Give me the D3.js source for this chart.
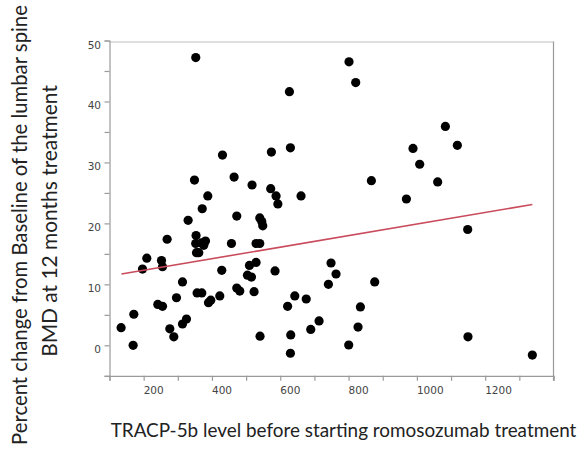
<!DOCTYPE html>
<html>
<head>
<meta charset="utf-8">
<script src="https://cdn.jsdelivr.net/npm/d3@7"></script>
<style>
  body { margin: 0; background: #fff; }
  svg { display: block; }
</style>
</head>
<body>
<div id="chart"></div>
<script>
// TRACP-5b (x) vs % change of lumbar spine BMD at 12 months (y)
const tracp = [352.6, 626.8, 629.7, 574, 430.8, 348.8, 464.8, 517.4, 572, 587.7,
    387.8, 660.8, 593, 371.5, 330.2, 472.6, 540, 545.8, 548.7, 268.7,
    353.5, 381, 352.4, 369.3, 376, 354.7, 361.4, 457.1, 529.1, 540,
    209.2, 252.2, 255.2, 196.6, 529.1, 509.7, 428.7, 584.7, 503.9, 515.6,
    313.7, 472.6, 481.4, 356.5, 370.2, 523.3, 296.1, 422.9, 389.8, 396.5,
    241.4, 255.2, 171.2, 642.5, 621.5, 676, 134, 276.6, 288.3, 313.7,
    325.4, 540.8, 630.7, 629.7, 689.2, 713.6, 169.2, 748.6, 763.3, 741,
    876.5, 834.6, 827.7, 800.4, 1149.6, 1338, 1148.7, 801.3, 820.9, 1083.4,
    1118.5, 988.6, 1008.2, 866.8, 1060.9, 969.3];
const bmdChange = [47.2, 41.6, 32.4, 31.7, 31.2, 27.1, 27.6, 26.3, 25.7, 24.5,
    24.5, 24.5, 23.2, 22.4, 20.5, 21.2, 20.9, 20.3, 19.6, 17.4,
    18.0, 17.1, 16.7, 16.8, 16.4, 15.2, 15.2, 16.7, 16.7, 16.7,
    14.3, 13.9, 12.9, 12.5, 13.6, 13.1, 12.3, 12.2, 11.5, 11.2,
    10.4, 9.4, 8.9, 8.6, 8.6, 8.8, 7.8, 8.1, 7.0, 7.4,
    6.7, 6.4, 5.1, 8.1, 6.4, 7.6, 2.9, 2.7, 1.4, 3.5,
    4.3, 1.5, 1.7, -1.3, 2.6, 4.0, 0.0, 13.5, 11.7, 10.0,
    10.4, 6.3, 3.0, 0.05, 1.4, -1.6, 19.0, 46.5, 43.1, 35.9,
    32.8, 32.3, 29.7, 27.0, 26.8, 24.0];

// fit line end points
const fitX = [135, 1338];
const fitY = [11.7, 23.1];

const xTicks = d3.range(100, 1401, 100);
const xLabels = [200, 400, 600, 800, 1000, 1200];
const yTicks = d3.range(-5, 51, 5);
const yLabels = [0, 10, 20, 30, 40, 50];

const xTitle = "TRACP-5b level before starting romosozumab treatment";
const yTitle = ["Percent change from Baseline of the lumbar spine",
    "BMD at 12 months treatment"];

let W = 581, H = 449;
let plot = {left: 109.5, right: 553.5, top: 40.5, bottom: 375.8};

let x = d3.scaleLinear().domain([100, 1400]).range([plot.left, plot.right]);
let y = d3.scaleLinear().domain([-5, 50]).range([plot.bottom, plot.top]);

let svg = d3.select("#chart").append("svg")
    .attr("width", W)
    .attr("height", H);

let axisColor = "#9a9a9a";

// frame: light top line, grey right line
svg.append("line")
    .attr("x1", plot.left).attr("x2", plot.right)
    .attr("y1", 42).attr("y2", 42)
    .attr("stroke", "#d4d4d4").attr("stroke-width", 1.6);
svg.append("line")
    .attr("x1", plot.right).attr("x2", plot.right)
    .attr("y1", 41.5).attr("y2", plot.bottom + 5)
    .attr("stroke", axisColor).attr("stroke-width", 1.2);

// x axis
let gx = svg.append("g")
    .attr("transform", "translate(0," + plot.bottom + ")")
    .call(d3.axisBottom(x).tickValues(xTicks).tickSize(5).tickFormat(""));
gx.select(".domain").attr("stroke", axisColor).attr("stroke-width", 1.2);
gx.selectAll(".tick line").attr("stroke", axisColor).attr("stroke-width", 1.2);

svg.append("g").selectAll("text")
    .data(xLabels)
    .join("text")
    .attr("x", d => x(d))
    .attr("y", plot.bottom + 18)
    .attr("font-family", "DejaVu Sans, Verdana, sans-serif")
    .attr("font-size", 10.5)
    .attr("fill", "#444")
    .text(d => d);

// y axis
let gy = svg.append("g")
    .attr("transform", "translate(" + plot.left + ",0)")
    .call(d3.axisLeft(y).tickValues(yTicks).tickSize(5).tickFormat(""));
gy.select(".domain").attr("stroke", axisColor).attr("stroke-width", 1.2);
gy.selectAll(".tick line").attr("stroke", axisColor).attr("stroke-width", 1.2);

svg.append("g").selectAll("text")
    .data(yLabels)
    .join("text")
    .attr("x", plot.left - 8.5)
    .attr("y", d => y(d) + 8)
    .attr("text-anchor", "end")
    .attr("font-family", "DejaVu Sans, Verdana, sans-serif")
    .attr("font-size", 10.5)
    .attr("fill", "#444")
    .text(d => d);

// points
svg.append("g").selectAll("circle")
    .data(d3.zip(tracp, bmdChange))
    .join("circle")
    .attr("cx", d => x(d[0]))
    .attr("cy", d => y(d[1]))
    .attr("r", 4.6)
    .attr("fill", "#000");

// fit line
svg.append("line")
    .attr("x1", x(fitX[0])).attr("y1", y(fitY[0]))
    .attr("x2", x(fitX[1])).attr("y2", y(fitY[1]))
    .attr("stroke", "#c94b5c")
    .attr("stroke-width", 1.6);

// titles, font size tuned so the text spans the same length as the picture
function fitText(sel, target) {
    let len = sel.node().getComputedTextLength();
    let fs = parseFloat(sel.attr("font-size")) * target / len;
    sel.attr("font-size", fs);
    return fs;
}

let titleFont = "Lato, 'Open Sans', sans-serif";

let xt = svg.append("text")
    .attr("x", 343.5)
    .attr("y", 437)
    .attr("text-anchor", "middle")
    .attr("font-family", titleFont)
    .attr("font-size", 18)
    .attr("fill", "#222")
    .text(xTitle);
fitText(xt, 466);

let yPos = [{bx: 26.5, cy: 225, len: 440}, {bx: 57, cy: 221, len: 272}];
yTitle.forEach(function (t, i) {
    let p = yPos[i];
    let yt = svg.append("text")
        .attr("transform", "translate(" + p.bx + "," + p.cy + ") rotate(-90)")
        .attr("text-anchor", "middle")
        .attr("font-family", titleFont)
        .attr("font-size", 18)
        .attr("fill", "#222")
        .text(t);
    fitText(yt, p.len);
});
</script>
</body>
</html>
